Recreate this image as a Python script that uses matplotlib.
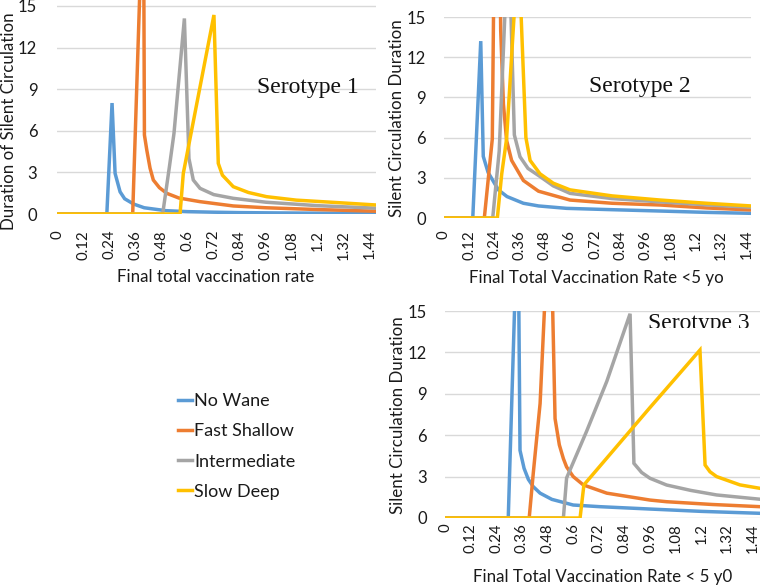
import matplotlib
matplotlib.use("Agg")
import matplotlib.pyplot as plt
from matplotlib.lines import Line2D
from matplotlib.patches import Rectangle

plt.rcParams['font.family'] = ['Lato', 'DejaVu Sans']

W, H = 762, 588
DPI = 100

# ---------------- data ----------------
series_names = ["No Wane", "Fast Shallow", "Intermediate", "Slow Deep"]
colors = ["#5B9BD5", "#ED7D31", "#A5A5A5", "#FFC000"]
x_ticks = [0, 0.12, 0.24, 0.36, 0.48, 0.6, 0.72, 0.84, 0.96, 1.08, 1.2, 1.32, 1.44]
x_tick_labels = ["0", "0.12", "0.24", "0.36", "0.48", "0.6", "0.72", "0.84", "0.96", "1.08", "1.2", "1.32", "1.44"]
y_ticks = [0, 3, 6, 9, 12, 15]

# Serotype 1
s1_blue_x = [0, 0.228, 0.252, 0.266, 0.289, 0.31, 0.351, 0.40, 0.50, 0.60, 0.72, 0.84, 1.0, 1.2, 1.467]
s1_blue_y = [0, 0, 8.0, 2.93, 1.6, 1.1, 0.72, 0.45, 0.24, 0.17, 0.13, 0.1, 0.08, 0.06, 0.04]
s1_orange_x = [0, 0.347, 0.392, 0.397, 0.401, 0.412, 0.427, 0.442, 0.47, 0.504, 0.56, 0.657, 0.81, 0.96, 1.2, 1.467]
s1_orange_y = [0, 0, 22, 22, 5.7, 4.6, 3.3, 2.45, 1.9, 1.49, 1.15, 0.89, 0.58, 0.45, 0.32, 0.2]
s1_gray_x = [0, 0.485, 0.516, 0.537, 0.585, 0.606, 0.626, 0.657, 0.72, 0.81, 0.96, 1.2, 1.467]
s1_gray_y = [0, 0, 3.4, 5.8, 14.1, 4.0, 2.45, 1.85, 1.4, 1.13, 0.85, 0.6, 0.42]
s1_yellow_x = [0, 0.565, 0.58, 0.721, 0.741, 0.76, 0.81, 0.88, 0.963, 1.1, 1.27, 1.467]
s1_yellow_y = [0, 0, 2.93, 14.35, 3.65, 2.8, 1.97, 1.55, 1.25, 1.0, 0.84, 0.65]

# Serotype 2
s2_blue_x = [0, 0.137, 0.175, 0.187, 0.21, 0.259, 0.3, 0.378, 0.45, 0.584, 0.8, 1.03, 1.25, 1.462]
s2_blue_y = [0, 0, 13.2, 4.6, 3.4, 2.1, 1.6, 1.1, 0.9, 0.72, 0.62, 0.52, 0.42, 0.35]
s2_orange_x = [0, 0.192, 0.23, 0.242, 0.26, 0.27, 0.283, 0.298, 0.322, 0.378, 0.45, 0.6, 0.8, 1.03, 1.25, 1.462]
s2_orange_y = [0, 0, 5.9, 25, 30, 14, 8.5, 5.8, 4.3, 2.8, 2.0, 1.34, 1.1, 0.97, 0.75, 0.6]
s2_gray_x = [0, 0.232, 0.263, 0.30, 0.312, 0.335, 0.362, 0.40, 0.457, 0.52, 0.6, 0.8, 1.03, 1.25, 1.462]
s2_gray_y = [0, 0, 5.0, 19, 19, 6.2, 4.57, 3.7, 3.1, 2.4, 1.84, 1.45, 1.2, 0.98, 0.8]
s2_yellow_x = [0, 0.254, 0.275, 0.298, 0.345, 0.36, 0.39, 0.41, 0.457, 0.52, 0.6, 0.8, 1.03, 1.25, 1.462]
s2_yellow_y = [0, 0, 3.3, 5.9, 18, 18, 6.0, 4.3, 3.3, 2.6, 2.1, 1.65, 1.34, 1.1, 0.9]

# Serotype 3
s3_blue_x = [0, 0.296, 0.335, 0.343, 0.351, 0.37, 0.39, 0.413, 0.445, 0.5, 0.6, 0.725, 0.959, 1.2, 1.474]
s3_blue_y = [0, 0, 20, 20, 4.9, 3.6, 2.8, 2.27, 1.8, 1.35, 0.94, 0.82, 0.65, 0.48, 0.34]
s3_orange_x = [0, 0.394, 0.413, 0.445, 0.48, 0.497, 0.515, 0.535, 0.554, 0.569, 0.6, 0.647, 0.757, 0.959, 1.037, 1.25, 1.474]
s3_orange_y = [0, 0, 3.24, 8.3, 20, 20, 7.2, 5.3, 4.3, 3.7, 3.0, 2.4, 1.8, 1.3, 1.18, 0.98, 0.82]
s3_gray_x = [0, 0.554, 0.569, 0.663, 0.757, 0.866, 0.884, 0.92, 0.959, 1.037, 1.15, 1.271, 1.474]
s3_gray_y = [0, 0, 2.9, 6.3, 9.9, 14.8, 3.96, 3.3, 2.88, 2.39, 2.0, 1.67, 1.36]
s3_yellow_x = [0, 0.632, 0.65, 0.959, 1.193, 1.217, 1.24, 1.271, 1.38, 1.474]
s3_yellow_y = [0, 0, 2.4, 8.0, 12.17, 3.84, 3.35, 3.0, 2.4, 2.15]

panels = [
    dict(data=[(s1_blue_x, s1_blue_y), (s1_orange_x, s1_orange_y), (s1_gray_x, s1_gray_y), (s1_yellow_x, s1_yellow_y)],
         box=(57.3, 376, 0, 214), ylim_top=15.43, xmax=1.467, xpad=11.5, ypad=14.4,
         xlabel="Final total vaccination rate", xlabel_pos=(216, 277),
         ylabel="Duration of Silent Circulation", ylabel_pos=(9, 121),
         title="Serotype 1", title_pos=(257, 93.3), clip=None),
    dict(data=[(s2_blue_x, s2_blue_y), (s2_orange_x, s2_orange_y), (s2_gray_x, s2_gray_y), (s2_yellow_x, s2_yellow_y)],
         box=(444, 751, 17, 218), ylim_top=15, xmax=1.462, xpad=8.6, ypad=13,
         xlabel="Final Total Vaccination Rate <5 yo", xlabel_pos=(596.7, 278.3),
         ylabel="Silent Circulation Duration", ylabel_pos=(397, 118),
         title="Serotype 2", title_pos=(589, 91.7), clip=None),
    dict(data=[(s3_blue_x, s3_blue_y), (s3_orange_x, s3_orange_y), (s3_gray_x, s3_gray_y), (s3_yellow_x, s3_yellow_y)],
         box=(445, 760, 311, 518), ylim_top=15, xmax=1.474, xpad=3.8, ypad=13,
         xlabel="Final Total Vaccination Rate < 5 y0", xlabel_pos=(602.5, 576.7),
         ylabel="Silent Circulation Duration", ylabel_pos=(398, 415),
         title="Serotype 3", title_pos=(648, 329), clip=327.5),
]

fig = plt.figure(figsize=(W / DPI, H / DPI), dpi=DPI)

def fx(px):
    return px / W

def fy(py):
    return 1 - py / H

for p in panels:
    l, r, t, b = p["box"]
    ax = fig.add_axes([fx(l), fy(b), (r - l) / W, (b - t) / H])
    for (xs, ys), c in zip(p["data"], colors):
        ax.plot(xs, ys, color=c, lw=2.5, solid_joinstyle='miter', zorder=3)
    ax.set_xlim(0, p["xmax"])
    ax.set_ylim(0, p["ylim_top"])
    ax.set_yticks(y_ticks)
    ax.set_xticks(x_ticks)
    ax.set_xticklabels(x_tick_labels, rotation=90, fontsize=10.8, color="#1a1a1a")
    ax.tick_params(axis='x', length=0, pad=p["xpad"])
    ax.tick_params(axis='y', length=0, pad=p["ypad"], labelsize=12, labelcolor="#1a1a1a")
    for s in ax.spines.values():
        s.set_visible(False)
    ax.grid(axis='y', color="#d9d9d9", lw=1.0, zorder=0)
    ax.set_axisbelow(True)
    ax.patch.set_alpha(0)
    fig.text(fx(p["xlabel_pos"][0]), fy(p["xlabel_pos"][1]), p["xlabel"], ha='center', va='center',
             fontsize=12.2, color="#1a1a1a")
    fig.text(fx(p["ylabel_pos"][0]), fy(p["ylabel_pos"][1]), p["ylabel"], ha='center', va='center',
             rotation=90, fontsize=12.2, color="#1a1a1a")
    t_ = fig.text(fx(p["title_pos"][0]), fy(p["title_pos"][1]), p["title"], ha='left', va='baseline',
                  fontsize=17, family=['Liberation Serif', 'DejaVu Serif'], color="#111111", zorder=5)
    if p["clip"] is not None:
        rect = Rectangle((0, fy(p["clip"])), 1, 1, transform=fig.transFigure, visible=False)
        fig.add_artist(rect)
        t_.set_clip_on(True)
        t_.set_clip_path(rect)

handles = [Line2D([0], [0], color=c, lw=2.5) for c in colors]
fig.legend(handles, series_names, loc='upper left', bbox_to_anchor=(fx(178), fy(393)),
           frameon=False, fontsize=13, handlelength=0.8, handletextpad=0.1,
           labelspacing=0.79, borderpad=0, borderaxespad=0, labelcolor="#1a1a1a")

fig.savefig("out.png", dpi=DPI)
